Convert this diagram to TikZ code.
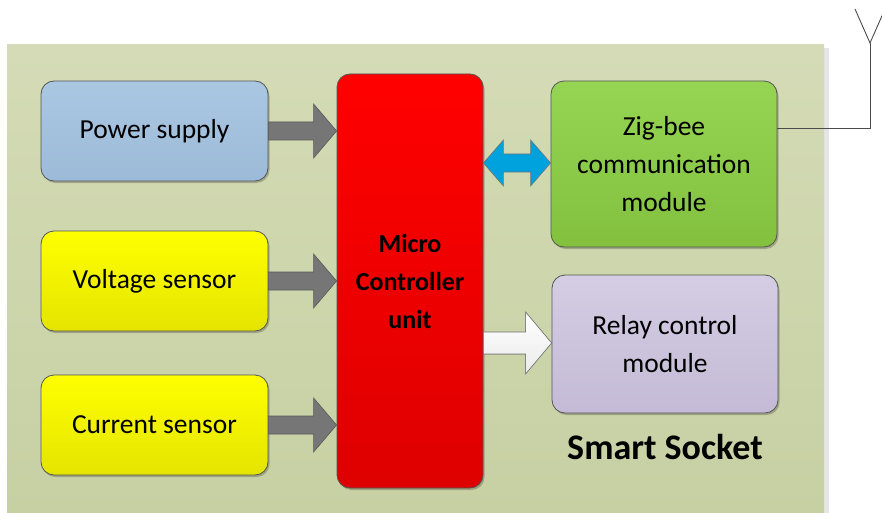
\documentclass[tikz,border=0pt]{standalone}
\usepackage{fontspec}
\setmainfont{Carlito}
\usetikzlibrary{calc,shadows}

\definecolor{bgtop}{RGB}{212,219,182}
\definecolor{bgbot}{RGB}{199,208,163}
\definecolor{boxline}{RGB}{85,85,85}
\definecolor{bluetop}{RGB}{170,199,226}
\definecolor{bluebot}{RGB}{156,187,216}
\definecolor{yeltop}{RGB}{255,255,0}
\definecolor{yelbot}{RGB}{228,228,0}
\definecolor{redtop}{RGB}{255,0,0}
\definecolor{redbot}{RGB}{222,0,0}
\definecolor{grntop}{RGB}{150,212,84}
\definecolor{grnbot}{RGB}{130,192,62}
\definecolor{lavtop}{RGB}{212,205,227}
\definecolor{lavbot}{RGB}{196,186,214}
\definecolor{arrgray}{RGB}{118,118,118}
\definecolor{arrblue}{RGB}{0,162,222}
\definecolor{antcol}{RGB}{75,75,75}

\begin{document}
\begin{tikzpicture}[x=1pt,y=-1pt,
  block/.style={draw=boxline, line width=0.8pt, rounded corners=13pt,
    align=center, inner sep=0pt, text=black,
    font=\fontsize{27.5}{38}\selectfont,
    drop shadow={shadow xshift=1.5pt, shadow yshift=-2pt, opacity=0.22, fill=black}},
  garrow/.style={fill=arrgray, draw=black!65, line width=0.6pt, line join=miter},
  barrow/.style={fill=arrblue, draw=black!55, line width=0.6pt, line join=miter},
  warrow/.style={top color=white, bottom color=black!8, draw=black!55, line width=0.6pt, line join=miter},
  antenna/.style={draw=antcol, line width=0.9pt},
]
\clip (0,0) rectangle (882,513);
\useasboundingbox (0,0) rectangle (882,513);

% socket enclosure
\fill[black!10] (824,48) rectangle (829,513);
\fill[top color=bgtop, bottom color=bgbot] (7,45) rectangle (824,513);

% blocks
\node[block, top color=bluetop, bottom color=bluebot,
      minimum width=227pt, minimum height=100pt] (ps) at (154.5,131) {Power supply};
\node[block, top color=yeltop, bottom color=yelbot,
      minimum width=227pt, minimum height=100pt] (vs) at (154.5,281) {Voltage sensor};
\node[block, top color=yeltop, bottom color=yelbot,
      minimum width=227pt, minimum height=100pt] (cs) at (154.5,425) {Current sensor};
\node[block, top color=redtop, bottom color=redbot, font=\bfseries\fontsize{26}{38}\selectfont,
      minimum width=146pt, minimum height=414pt] (mcu) at (410,281) {Micro\\Controller\\unit};
\node[block, top color=grntop, bottom color=grnbot,
      minimum width=226pt, minimum height=166pt] (zig) at (664,164) {Zig-bee\\communication\\module};
\node[block, top color=lavtop, bottom color=lavbot,
      minimum width=226pt, minimum height=138pt] (relay) at (665,344) {Relay control\\module};

\node[font=\bfseries\fontsize{36}{40}\selectfont, text=black] (title) at (665,447) {Smart Socket};

% sensor and supply inputs
\foreach \src in {ps,vs,cs}{
  \filldraw[garrow] let \p1=(\src.east), \p2=(mcu.west) in
    ({\x1},{\y1+9pt}) -- ({\x2-23pt},{\y1+9pt}) -- ({\x2-23pt},{\y1+27pt}) -- ({\x2},{\y1})
    -- ({\x2-23pt},{\y1-27pt}) -- ({\x2-23pt},{\y1-9pt}) -- ({\x1},{\y1-9pt}) -- cycle;
}

% two-way link to the radio module
\filldraw[barrow] let \p1=(mcu.east), \p2=(zig.west) in
  ({\x1},{\y2+1pt}) -- ({\x1+20pt},{\y2+24pt}) -- ({\x1+20pt},{\y2+10pt})
  -- ({\x2-20pt},{\y2+10pt}) -- ({\x2-20pt},{\y2+24pt}) -- ({\x2},{\y2+1pt})
  -- ({\x2-20pt},{\y2-22pt}) -- ({\x2-20pt},{\y2-8pt})
  -- ({\x1+20pt},{\y2-8pt}) -- ({\x1+20pt},{\y2-22pt}) -- cycle;

% relay command
\filldraw[warrow] let \p1=(mcu.east), \p2=(relay.west) in
  ({\x1},{\y2+12pt}) -- ({\x2-26pt},{\y2+12pt}) -- ({\x2-26pt},{\y2+32pt}) -- ({\x2},{\y2+1pt})
  -- ({\x2-26pt},{\y2-30pt}) -- ({\x2-26pt},{\y2-10pt}) -- ({\x1},{\y2-10pt}) -- cycle;

% antenna
\coordinate (anttip) at (870,43);
\coordinate (antl) at (855,9);
\coordinate (antr) at (885,9);
\draw[antenna] ($(zig.east)+(0,-36)$) -| (anttip);
\draw[antenna, line join=miter] (antl) -- (anttip) -- (antr);
\end{tikzpicture}
\end{document}
